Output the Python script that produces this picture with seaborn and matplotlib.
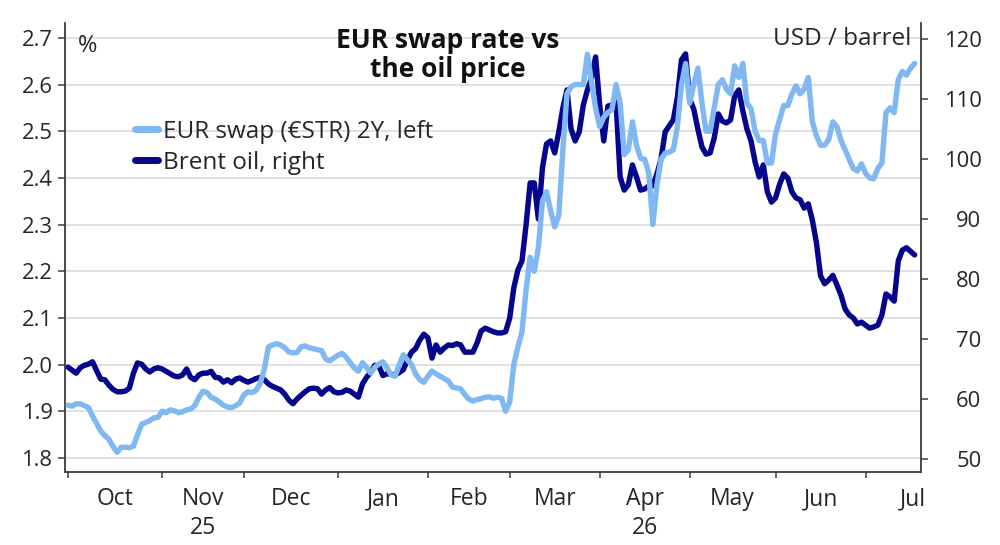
import numpy as np
import pandas as pd
import matplotlib
matplotlib.use("Agg")
import matplotlib.pyplot as plt
from matplotlib.lines import Line2D
from matplotlib.ticker import NullFormatter
import seaborn as sns

# ---------------- data (one value per business day from 1 Oct 2025) ----------------
start = "2025-10-01"

swap = [
    # Oct
    1.913, 1.911, 1.916, 1.916, 1.912, 1.908, 1.890, 1.874, 1.858, 1.848, 1.840, 1.825,
    1.812, 1.823, 1.823, 1.822, 1.825, 1.850, 1.872, 1.876, 1.880, 1.886, 1.887,
    # Nov
    1.900, 1.897, 1.903, 1.901, 1.897, 1.899, 1.903, 1.905, 1.912, 1.930, 1.943, 1.940,
    1.930, 1.926, 1.920, 1.913, 1.909, 1.908, 1.912, 1.918,
    # Dec
    1.935, 1.942, 1.940, 1.945, 1.960, 1.990, 2.038, 2.042, 2.045, 2.042, 2.036, 2.027,
    2.025, 2.026, 2.038, 2.040, 2.036, 2.034, 2.032, 2.030, 2.012, 2.008, 2.014,
    # Jan
    2.020, 2.024, 2.016, 2.004, 1.993, 1.986, 2.004, 1.994, 1.982, 1.994, 2.001, 2.006,
    1.993, 1.978, 1.975, 2.000, 2.021, 2.010, 2.000, 1.980, 1.968, 1.962,
    # Feb
    1.975, 1.986, 1.980, 1.975, 1.970, 1.965, 1.952, 1.950, 1.948, 1.936, 1.926, 1.922,
    1.925, 1.927, 1.930, 1.931, 1.928, 1.930, 1.928, 1.900,
    # Mar
    1.920, 2.000, 2.038, 2.070, 2.160, 2.230, 2.200, 2.250, 2.350, 2.370, 2.330, 2.295,
    2.320, 2.460, 2.580, 2.595, 2.600, 2.600, 2.600, 2.665, 2.605, 2.550,
    # Apr
    2.510, 2.530, 2.540, 2.546, 2.600, 2.560, 2.450, 2.460, 2.520, 2.470, 2.442, 2.440,
    2.410, 2.300, 2.385, 2.440, 2.453, 2.455, 2.460, 2.510, 2.600, 2.645,
    # May
    2.560, 2.600, 2.635, 2.560, 2.500, 2.500, 2.550, 2.600, 2.610, 2.590, 2.580, 2.640,
    2.615, 2.645, 2.560, 2.548, 2.500, 2.480, 2.480, 2.432, 2.432,
    # Jun
    2.495, 2.525, 2.555, 2.555, 2.580, 2.597, 2.580, 2.590, 2.615, 2.520, 2.490, 2.470,
    2.470, 2.482, 2.520, 2.510, 2.480, 2.460, 2.440, 2.420, 2.415, 2.430,
    # Jul
    2.410, 2.400, 2.398, 2.420, 2.432, 2.540, 2.550, 2.540, 2.610, 2.628, 2.620, 2.635,
    2.645,
]

brent = [
    # Oct
    65.3, 64.8, 64.3, 65.2, 65.6, 65.8, 66.2, 64.7, 63.3, 63.2, 62.3, 61.6,
    61.2, 61.2, 61.3, 61.8, 64.3, 66.0, 65.8, 65.0, 64.5, 65.0, 65.2,
    # Nov
    65.0, 64.6, 64.2, 63.8, 63.7, 64.0, 65.0, 63.6, 63.2, 64.0, 64.3, 64.3,
    64.6, 63.6, 63.5, 62.8, 63.2, 62.7, 63.3, 63.5,
    # Dec
    63.1, 62.8, 63.1, 63.4, 63.6, 63.2, 62.5, 62.1, 61.8, 61.5, 60.8, 59.8,
    59.2, 60.0, 60.6, 61.2, 61.7, 61.8, 61.7, 60.8, 61.5, 61.9, 61.2,
    # Jan
    61.0, 61.1, 61.5, 61.3, 60.8, 60.3, 62.5, 63.6, 64.4, 65.6, 65.5, 63.9,
    64.2, 64.1, 64.0, 64.4, 64.9, 66.5, 67.8, 68.4, 69.8, 70.8,
    # Feb
    70.2, 66.8, 69.0, 67.8, 68.5, 69.0, 68.9, 69.2, 69.0, 67.8, 67.8, 67.8,
    69.3, 71.3, 71.8, 71.5, 71.2, 71.0, 71.0, 71.2,
    # Mar
    73.5, 78.5, 81.5, 83.0, 89.0, 96.0, 96.0, 90.0, 98.5, 102.5, 103.0, 101.0,
    104.5, 108.5, 111.5, 105.0, 103.0, 104.5, 109.0, 111.5, 113.5, 117.0,
    # Apr
    109.0, 103.0, 108.8, 109.0, 109.5, 97.0, 94.8, 95.7, 99.0, 97.0, 94.8, 95.0,
    95.5, 95.5, 97.5, 100.0, 104.5, 105.5, 106.5, 110.3, 116.5, 117.5,
    # May
    110.0, 108.3, 105.0, 102.0, 100.8, 101.0, 103.5, 107.5, 106.3, 106.0, 106.5, 110.5,
    111.5, 108.0, 105.0, 103.0, 99.5, 97.0, 99.0, 94.5, 92.8,
    # Jun
    93.5, 95.8, 97.5, 96.8, 94.5, 93.5, 93.2, 91.8, 92.5, 89.8, 86.0, 80.5,
    79.2, 79.8, 80.6, 79.0, 77.3, 75.0, 74.0, 73.5, 72.5, 72.8,
    # Jul
    72.3, 71.8, 72.0, 72.3, 74.0, 77.5, 77.0, 76.3, 83.0, 84.8, 85.2, 84.6,
    84.0,
]

month_labels = ["Oct", "Nov\n25", "Dec", "Jan", "Feb", "Mar", "Apr\n26", "May", "Jun", "Jul"]
left_ticks = [1.8, 1.9, 2.0, 2.1, 2.2, 2.3, 2.4, 2.5, 2.6, 2.7]
right_ticks = [50, 60, 70, 80, 90, 100, 110, 120]

series_labels = ["EUR swap (\u20acSTR) 2Y, left", "Brent oil, right"]
title = "EUR swap rate vs\nthe oil price"

# ---------------- derived positions (business-day axis) ----------------
d0 = np.datetime64(start, "D")
dates = pd.bdate_range(start, periods=len(swap))
bday = np.busday_count(d0, dates.values.astype("datetime64[D]"))
df = pd.DataFrame({"date": dates, "bday": bday, "swap": swap, "brent": brent})

month_starts = pd.date_range(start, periods=len(month_labels) + 1, freq="MS")
ms_pos = np.busday_count(d0, month_starts.values.astype("datetime64[D]"))
tick_pos = ms_pos[:-1]
label_pos = (ms_pos[:-1] + ms_pos[1:]) / 2.0

# ---------------- style ----------------
LIGHT = "#80b8f2"
DARK = "#06068c"
GRID = "#dedede"
SPINE = "#3c3c3c"
TXT = "#262626"

sns.set_style("white")
plt.rcParams["font.family"] = ["Open Sans", "DejaVu Sans"]

fig = plt.figure(figsize=(10, 5.45), dpi=100)
ax1 = fig.add_axes([0.065, 0.134, 0.856, 0.824])
ax2 = ax1.twinx()
ax1.set_zorder(ax2.get_zorder() + 1)
ax1.patch.set_visible(False)

# grid lines follow the left axis, drawn behind both series
ax2.hlines(left_ticks, 0, 1, transform=ax1.get_yaxis_transform(),
           color=GRID, lw=1.3, zorder=0)

sns.lineplot(data=df, x="bday", y="brent", ax=ax2, color=DARK, lw=3.9,
             legend=False, zorder=2)
sns.lineplot(data=df, x="bday", y="swap", ax=ax1, color=LIGHT, lw=3.9,
             legend=False, zorder=3)

# axes limits
ax1.set_xlim(-0.73, 208.56)
ax1.set_ylim(1.770, 2.732)
ax2.set_ylim(47.83, 122.67)

# y ticks
ax1.set_yticks(left_ticks, labels=[f"{t:.1f}" for t in left_ticks])
ax2.set_yticks(right_ticks, labels=[str(t) for t in right_ticks], ha="right")
ax1.tick_params(axis="y", which="major", length=5, width=1.1, color=SPINE,
                pad=4, labelsize=15.8, labelcolor=TXT, left=True)
ax2.tick_params(axis="y", which="major", length=5, width=1.1, color=SPINE,
                pad=38.5, labelsize=15.8, labelcolor=TXT, right=True)

# x ticks: marks at month starts, labels mid-month
ax1.set_xticks(tick_pos)
ax1.xaxis.set_major_formatter(NullFormatter())
ax1.set_xticks(label_pos, labels=month_labels, minor=True)
ax1.tick_params(axis="x", which="major", length=4, width=1.1, color=SPINE, bottom=True)
ax1.tick_params(axis="x", which="minor", length=0, pad=11, labelsize=16.5,
                labelcolor=TXT)
for lbl in ax1.get_xticklabels(minor=True):
    lbl.set_linespacing(1.25)

ax1.set_xlabel("")
ax1.set_ylabel("")
ax2.set_ylabel("")

# spines
for s in ["top", "right"]:
    ax1.spines[s].set_visible(False)
for s in ["top", "left", "bottom"]:
    ax2.spines[s].set_visible(False)
for ax, s in [(ax1, "left"), (ax1, "bottom"), (ax2, "right")]:
    ax.spines[s].set_color(SPINE)
    ax.spines[s].set_linewidth(1.3)

# legend
handles = [Line2D([], [], color=LIGHT, lw=5), Line2D([], [], color=DARK, lw=5)]
leg = ax1.legend(handles, series_labels, loc="upper left",
                 bbox_to_anchor=(0.082, 0.784), frameon=False, fontsize=17.5,
                 handlelength=0.95, handletextpad=0.2, labelspacing=0.28,
                 borderaxespad=0, borderpad=0)
for t in leg.get_texts():
    t.set_color(TXT)

# titles / unit labels
fig.text(0.448, 1 - 27 / 545, title, ha="center", va="top", fontsize=19,
         fontweight="bold", color="#111111", linespacing=1.1)
fig.text(0.078, 1 - 46 / 545, "%", ha="left", va="center", fontsize=17, color=TXT)
fig.text(0.911, 1 - 39 / 545, "USD / barrel", ha="right", va="center",
         fontsize=17.5, color=TXT)

fig.savefig("out.png", dpi=100, facecolor="white")
